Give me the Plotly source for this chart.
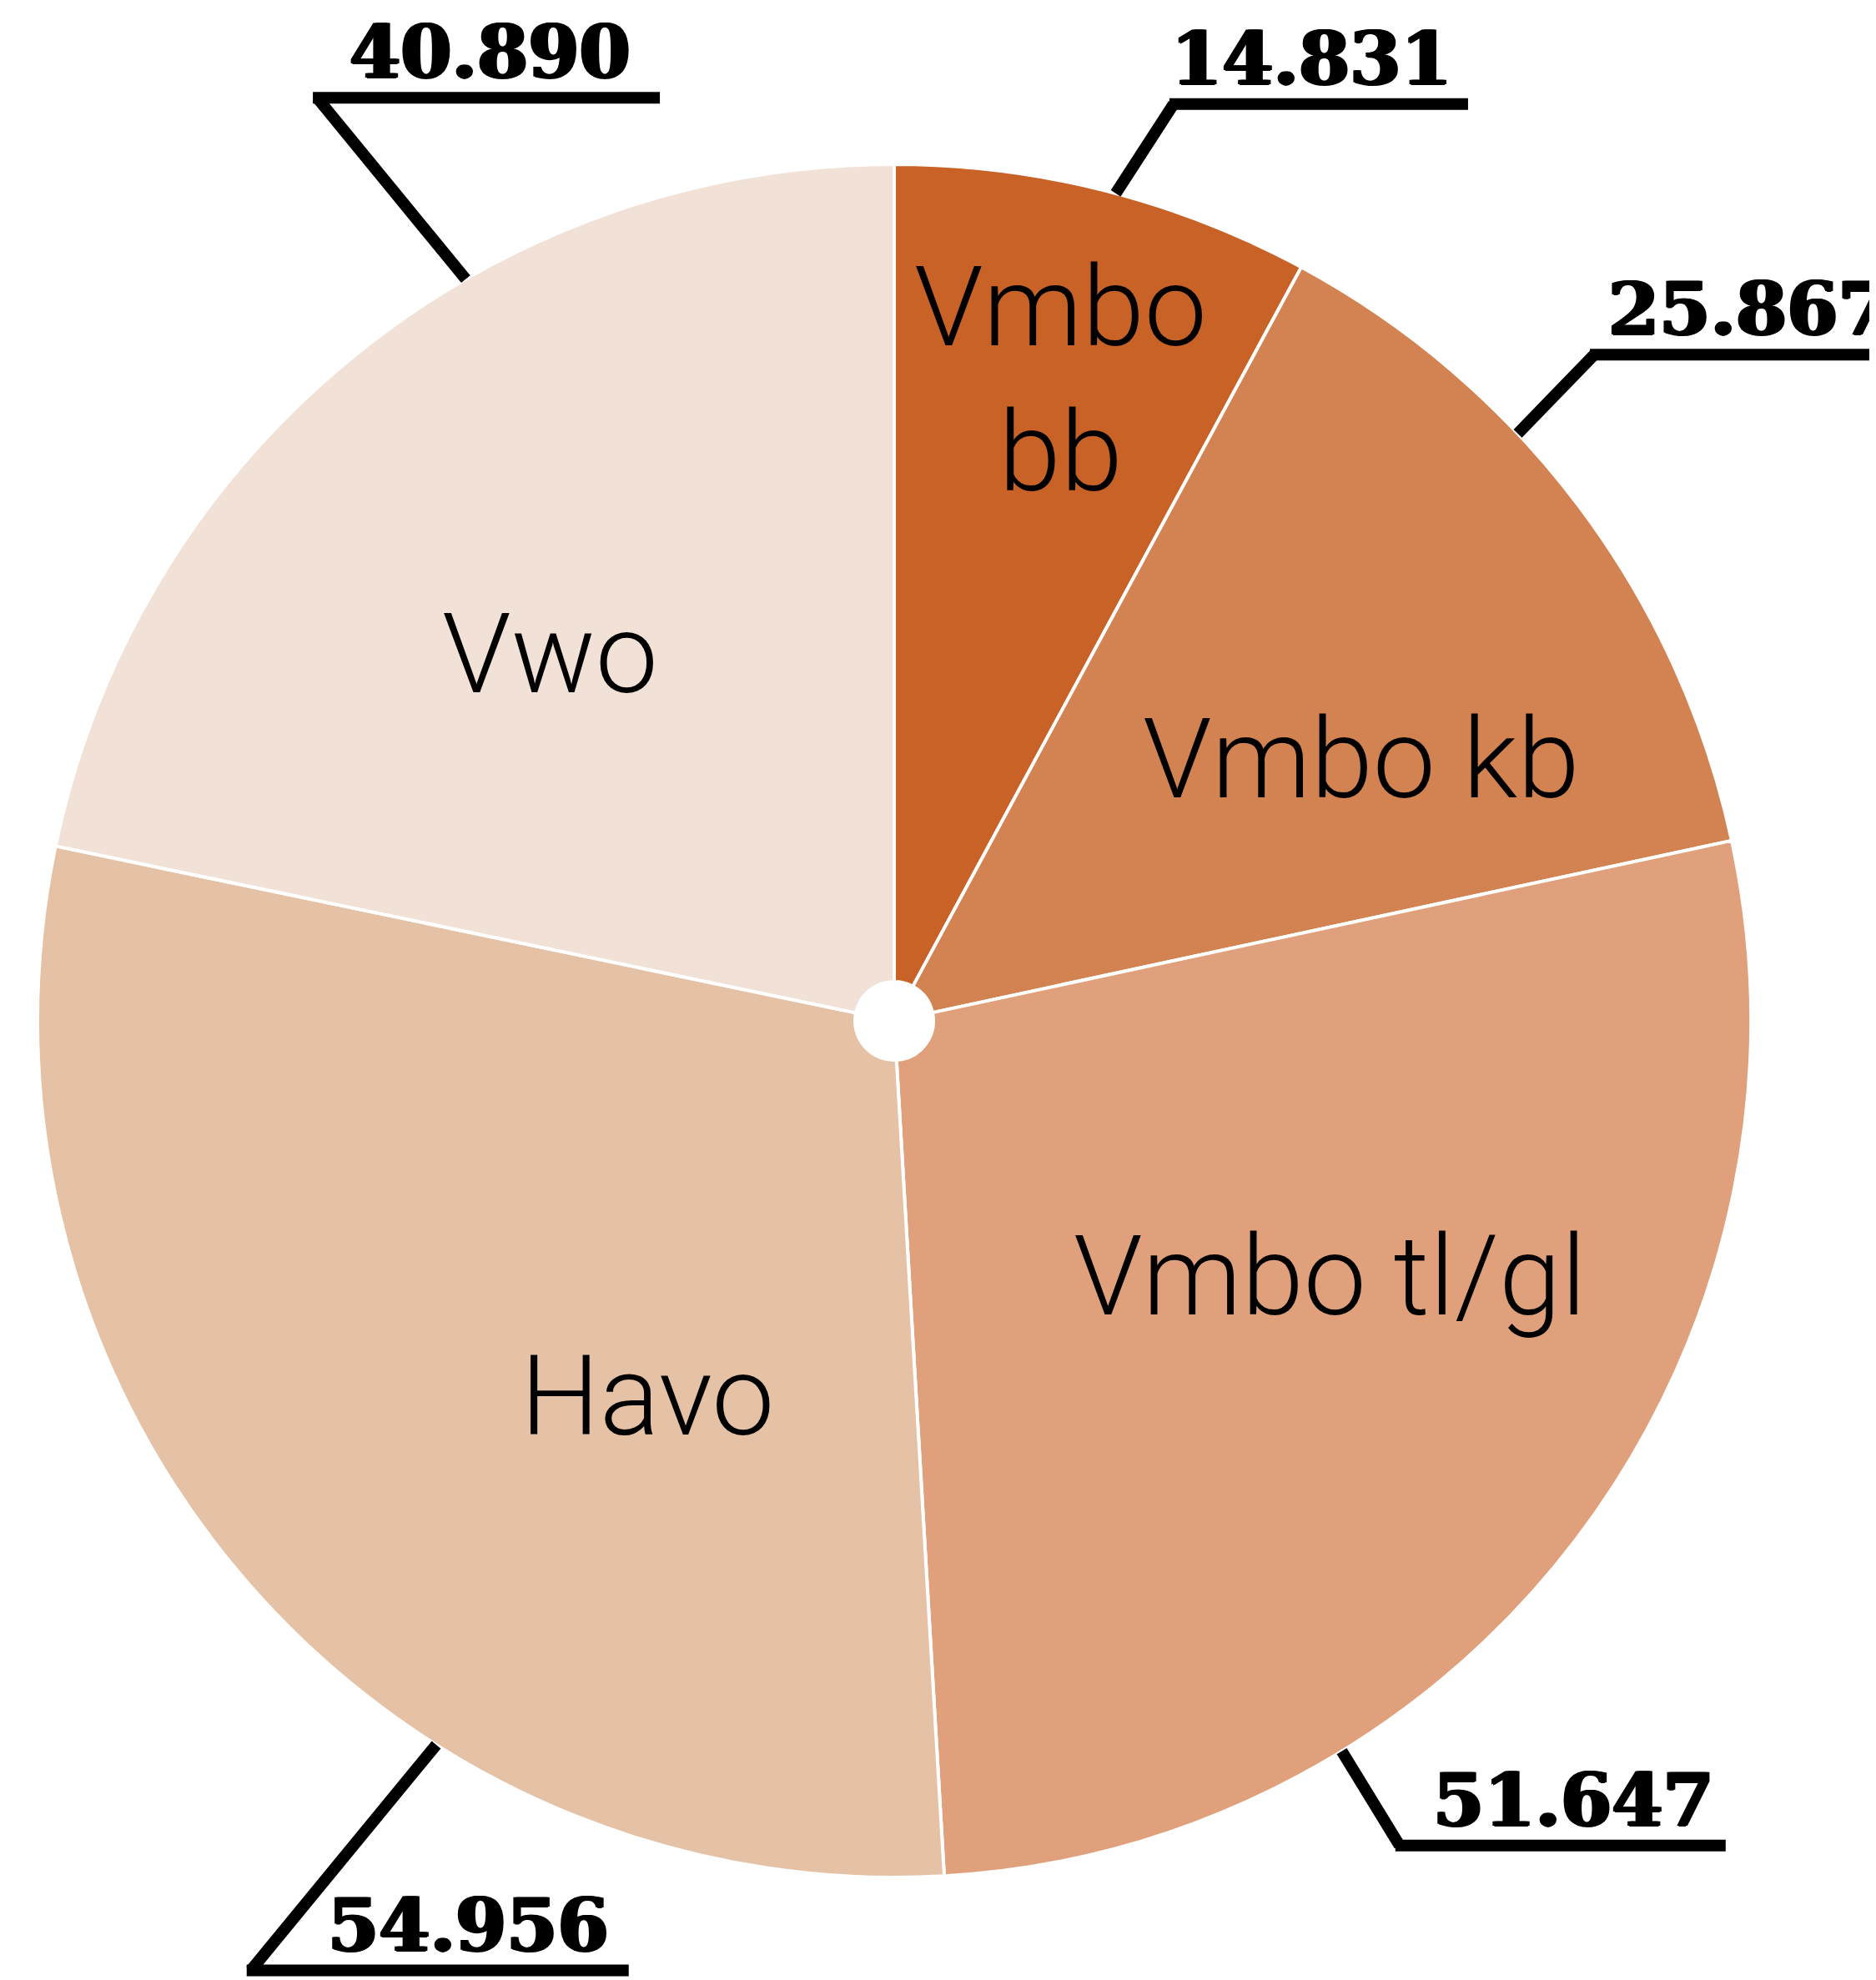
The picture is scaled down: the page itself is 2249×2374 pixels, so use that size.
"""
Pie chart: pupils per school type (vmbo bb / kb / tl-gl, havo, vwo).
Output: out.html
"""

import math
import plotly.graph_objects as go

# ── Data ──────────────────────────────────────────────────────────────────────
labels      = ["Vmbo bb", "Vmbo kb", "Vmbo tl/gl", "Havo", "Vwo"]
slice_text  = ["Vmbo<br>bb", "Vmbo kb", "Vmbo tl/gl", "Havo", "Vwo"]
values      = [14.831, 25.867, 51.647, 54.956, 40.890]
value_text  = ["14.831", "25.867", "51.647", "54.956", "40.890"]

COLORS = ["#C96226", "#D38252", "#DFA07B", "#E5C1A5", "#F1E1D7"]

# ── Geometry (page pixels) ────────────────────────────────────────────────────
W, H = 2249, 2374
PAGE_MARGIN = 8          # default <body> margin of the html page
CX, CY, R = 1072, 1224, 1027

# callouts: leader start / elbow angle nudges from the mid-angle (deg),
# elbow radius (x R), shelf length and number offset along the shelf (px)
ANCHOR_NUDGE = [0.8, -6.4, 21.25, -16.9, 9.1]
ELBOW_NUDGE  = [2.76, -6.7, 21.25, -15.1, 7.1]
ELBOW_RADIUS = [1.119, 1.128, 1.129, 1.339, 1.271]
SHELF_LEN    = [353, 370, 391, 453, 411]
TEXT_OFFSET  = [166, 185, 209, 261, 207]
# inside label tweaks: angle nudge (deg), radius factor
LABEL_NUDGE  = [0.4, 7.7, -6.9, -15.9, -4.1]
LABEL_RADIUS = [0.773, 0.625, 0.59, 0.525, 0.587]


def px(x):
    return (x - PAGE_MARGIN) / W


def py(y):
    return 1 - (y - PAGE_MARGIN) / H


def polar(angle_deg, r):
    a = math.radians(angle_deg)
    return CX + r * math.sin(a), CY - r * math.cos(a)


total = sum(values)
mids = []
acc = 0.0
for v in values:
    mids.append((acc + v / 2) / total * 360)
    acc += v

fig = go.Figure(go.Pie(
    labels=labels, values=values,
    sort=False, direction="clockwise", rotation=0,
    hole=47 / R,
    marker=dict(colors=COLORS, line=dict(color="white", width=4)),
    textinfo="none", hoverinfo="label+value",
    showlegend=False,
    domain=dict(x=[px(CX - R), px(CX + R)], y=[py(CY + R), py(CY - R)]),
))

annotations = []
shapes = []

# labels inside slices
for i, t in enumerate(slice_text):
    x, y = polar(mids[i] + LABEL_NUDGE[i], LABEL_RADIUS[i] * R)
    annotations.append(dict(
        x=px(x), y=py(y), xref="paper", yref="paper",
        text=t, showarrow=False, xanchor="center", yanchor="middle",
        font=dict(family="Roboto, Helvetica Neue, sans-serif", size=134,
                  color="black", weight=300),
    ))

# value callouts: leader from the pie edge + horizontal shelf + number on top
for i, t in enumerate(value_text):
    x0, y0 = polar(mids[i] + ANCHOR_NUDGE[i], R)
    x1, y1 = polar(mids[i] + ELBOW_NUDGE[i], ELBOW_RADIUS[i] * R)
    x2 = x1 + SHELF_LEN[i]
    line = dict(color="black", width=14)
    shapes.append(dict(type="line", xref="paper", yref="paper",
                       x0=px(x0), y0=py(y0), x1=px(x1), y1=py(y1), line=line))
    shapes.append(dict(type="line", xref="paper", yref="paper",
                       x0=px(x1 - 5), y0=py(y1), x1=px(x2), y1=py(y1), line=line))
    annotations.append(dict(
        x=px(x1 + TEXT_OFFSET[i]), y=py(y1 - 1), xref="paper", yref="paper",
        text=t, showarrow=False, xanchor="center", yanchor="bottom",
        font=dict(family="DejaVu Serif", size=88, color="black", weight="bold",
                  shadow="2px 0 0 black, -2px 0 0 black, 0 1px 0 black"),
    ))

fig.update_layout(
    width=W, height=H,
    margin=dict(l=0, r=0, t=0, b=0),
    paper_bgcolor="white", plot_bgcolor="white",
    annotations=annotations, shapes=shapes,
)

fig.write_html("out.html")
